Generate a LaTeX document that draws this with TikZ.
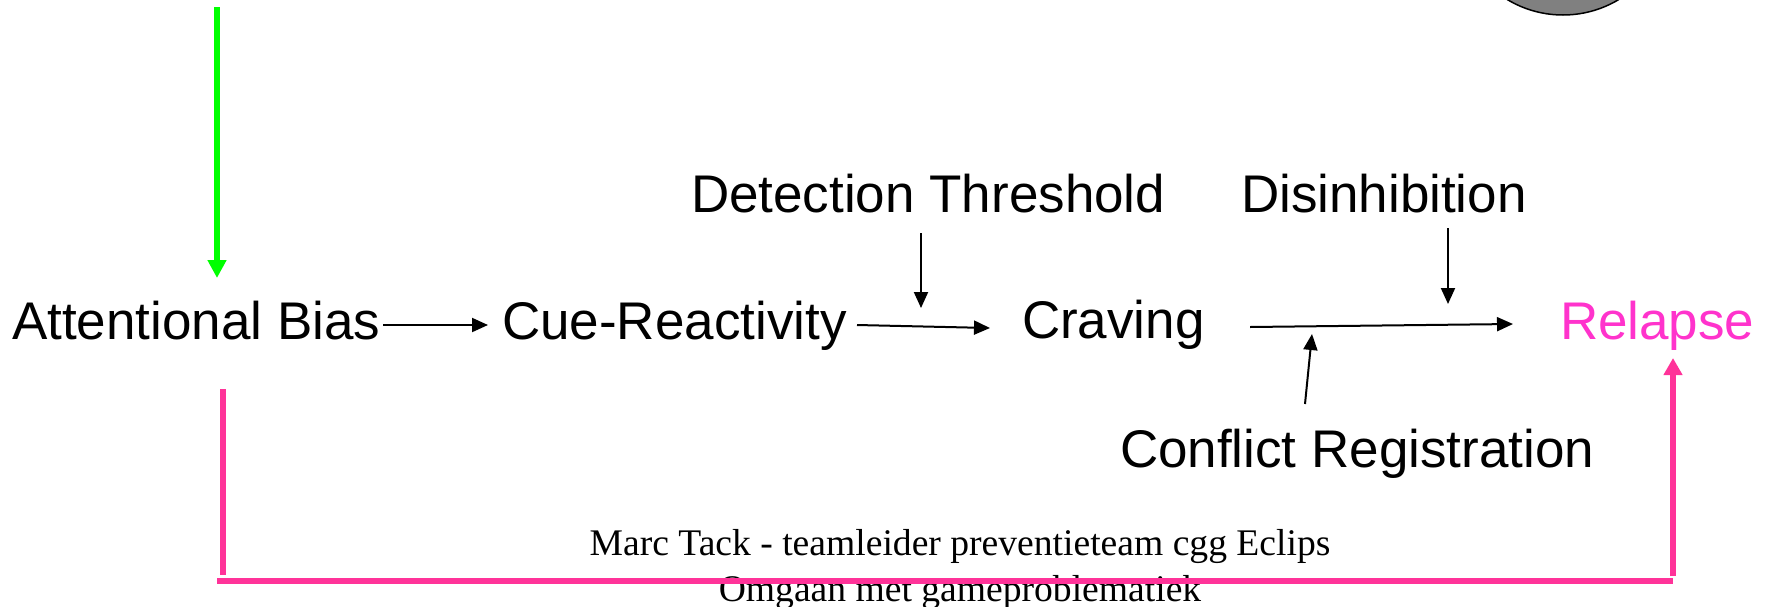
\documentclass[tikz,border=0pt]{standalone}
\usepackage{fontspec}
\setmainfont{Liberation Sans}
\newfontfamily\footfont{Liberation Serif}
\usetikzlibrary{arrows.meta}
\definecolor{pinkline}{HTML}{FF3399}
\definecolor{pinktext}{HTML}{FF33CC}
\definecolor{greenline}{HTML}{00FF00}
\definecolor{discgray}{HTML}{808080}
\tikzset{
  lbl/.style={font=\fontsize{26.5}{32}\selectfont, inner sep=0pt, outer sep=0pt, anchor=base west},
  foot/.style={font=\footfont\fontsize{18.8}{22}\selectfont, inner sep=0pt, anchor=base},
  arr/.style={line width=1pt, -{Triangle[length=8pt,width=7pt]}},
  greenarr/.style={greenline, line width=3pt, -{Triangle[length=9pt,width=9pt]}},
  pinkbar/.style={pinkline, line width=3pt},
  pinkarr/.style={pinkline, line width=3pt, -{Triangle[length=8.5pt,width=9pt]}},
}
\begin{document}
\begin{tikzpicture}[x=0.5pt,y=-0.5pt]
\useasboundingbox (0,0) rectangle (1772,606);
\begin{scope}
  \clip (0,0) rectangle (1772,606);
  \draw[fill=discgray, line width=0.75pt] (1563,-93) circle[radius=54pt];
\end{scope}

% labels
\node[lbl] (ab) at (12,339) {Attentional Bias};
\node[lbl] (cr) at (502,339) {Cue-Reactivity};
\node[lbl] (cv) at (1022,338) {Craving};
\node[lbl, text=pinktext] (rl) at (1560,339) {Relapse};
\node[lbl] (dt) at (691,212) {Detection Threshold};
\node[lbl] (di) at (1241,212) {Disinhibition};
\node[lbl] (cf) at (1120,467) {Conflict Registration};
\node[foot] (f1) at (960,555) {Marc Tack - teamleider preventieteam cgg Eclips};
\node[foot] (f2) at (960,601) {Omgaan met gameproblematiek};

% connector end points
\coordinate (abR) at (383,325);
\coordinate (crL) at (488,325);
\coordinate (crR) at (857,325);
\coordinate (cvL) at (990,328);
\coordinate (dtB) at (921,233);
\coordinate (dtT) at (921,308);
\coordinate (cvR) at (1250,327);
\coordinate (rlL) at (1513,324);
\coordinate (diB) at (1448,228);
\coordinate (diT) at (1448,304);
\coordinate (cfT) at (1305,404);
\coordinate (cfH) at (1312,334);
\coordinate (gTop) at (217,7);
\coordinate (gTip) at (217,278);
\coordinate (pL1) at (223,389);
\coordinate (pL2) at (223,575);
\coordinate (pH1) at (217,581);
\coordinate (pH2) at (1673,581);
\coordinate (pR1) at (1673,576);
\coordinate (pR2) at (1673,358);

\draw[arr] (abR) -- (crL);
\draw[arr] (crR) -- (cvL);
\draw[arr] (dtB) -- (dtT);
\draw[arr] (cvR) -- (rlL);
\draw[arr] (diB) -- (diT);
\draw[arr] (cfT) -- (cfH);
\draw[greenarr] (gTop) -- (gTip);
\draw[pinkbar] (pL1) -- (pL2);
\draw[pinkbar] (pH1) -- (pH2);
\draw[pinkarr] (pR1) -- (pR2);
\end{tikzpicture}
\end{document}
